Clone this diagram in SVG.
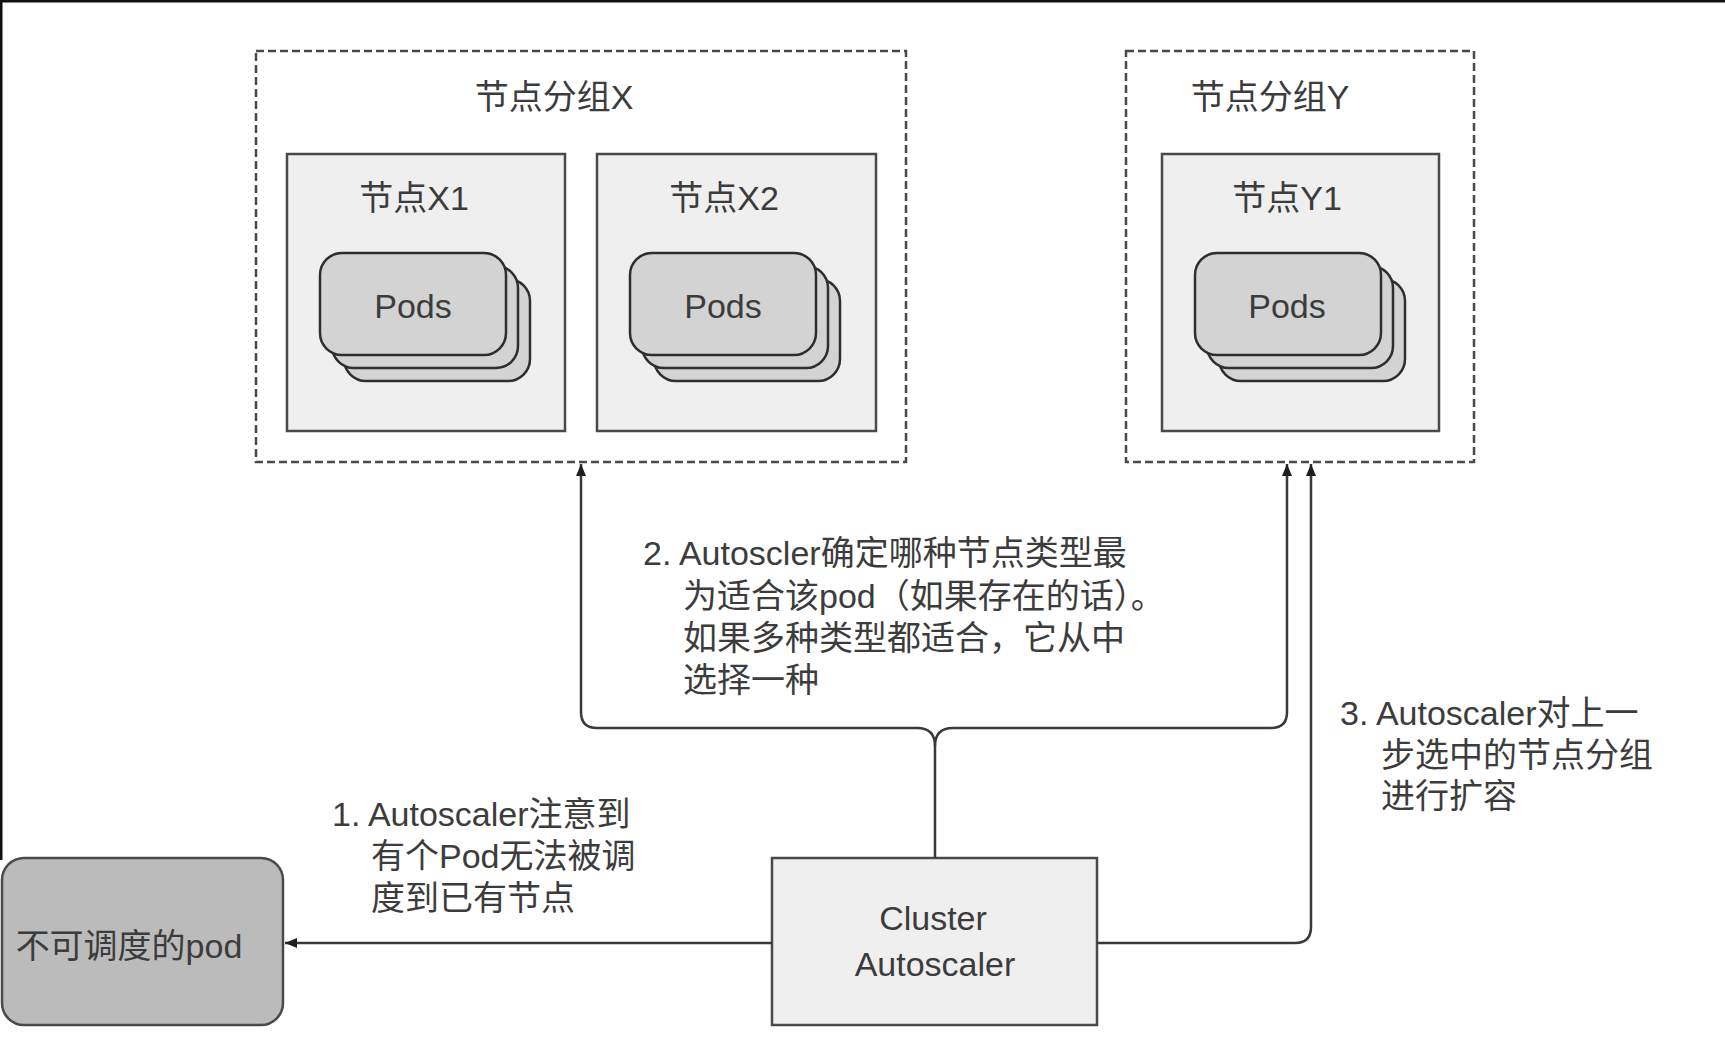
<svg xmlns="http://www.w3.org/2000/svg" width="1725" height="1047" viewBox="0 0 1725 1047">
<defs>
<style>
.t{font-family:"Liberation Sans","Noto Sans CJK SC",sans-serif;font-size:34px;fill:#3c3c3c}
.m{text-anchor:middle}
.grp{fill:#fff;stroke:#4a4a4a;stroke-width:2.5;stroke-dasharray:8 4}
.node{fill:#efefef;stroke:#4a4a4a;stroke-width:2.5}
.pod{fill:#d3d3d3;stroke:#2e2e2e;stroke-width:2.5}
.con{fill:none;stroke:#3a3a3a;stroke-width:2.5}
</style>
<marker id="ah" viewBox="0 0 12 10" refX="12" refY="5" markerWidth="12" markerHeight="10" markerUnits="userSpaceOnUse" orient="auto">
<path d="M0,0 L12,5 L0,10 Z" fill="#1e1e1e"/>
</marker>
<g id="podstack">
<rect class="pod" x="24" y="26" width="186" height="102" rx="22"/>
<rect class="pod" x="12" y="13" width="186" height="102" rx="22"/>
<rect class="pod" x="0" y="0" width="186" height="102" rx="22"/>
</g>
</defs>
<rect width="1725" height="1047" fill="#fff"/>
<line x1="0" y1="1" x2="1725" y2="1" stroke="#111" stroke-width="3"/>
<line x1="1" y1="0" x2="1" y2="860" stroke="#111" stroke-width="3"/>

<g id="groupX">
<rect class="grp" x="256" y="51" width="650" height="411"/>
<text class="t m" x="554" y="109">节点分组X</text>
</g>
<g id="nodeX1">
<rect class="node" x="287" y="154" width="278" height="277"/>
<text class="t m" x="414" y="210">节点X1</text>
<use href="#podstack" x="320" y="253"/>
<text class="t m" x="413" y="318">Pods</text>
</g>
<g id="nodeX2">
<rect class="node" x="597" y="154" width="279" height="277"/>
<text class="t m" x="724" y="210">节点X2</text>
<use href="#podstack" x="630" y="253"/>
<text class="t m" x="723" y="318">Pods</text>
</g>
<g id="groupY">
<rect class="grp" x="1126" y="51" width="348" height="411"/>
<text class="t m" x="1270" y="109">节点分组Y</text>
</g>
<g id="nodeY1">
<rect class="node" x="1162" y="154" width="277" height="277"/>
<text class="t m" x="1287" y="210">节点Y1</text>
<use href="#podstack" x="1195" y="253"/>
<text class="t m" x="1287" y="318">Pods</text>
</g>
<g id="clusterAutoscaler">
<rect class="node" x="772" y="858" width="325" height="167"/>
<text class="t m" x="933" y="930">Cluster</text>
<text class="t m" x="935" y="976">Autoscaler</text>
</g>
<g id="unschedulablePod">
<rect x="2" y="858" width="281" height="167" rx="22" fill="#bbbbbb" stroke="#4a4a4a" stroke-width="2.5"/>
<text class="t m" x="129" y="958">不可调度的pod</text>
</g>

<g id="connectors">
<path class="con" d="M772 943 H285" marker-end="url(#ah)"/>
<path class="con" d="M935 858 V746 Q935 728 917 728 H597 Q581 728 581 712 V464" marker-end="url(#ah)"/>
<path class="con" d="M935 746 Q935 728 953 728 H1271 Q1287 728 1287 712 V464" marker-end="url(#ah)"/>
<path class="con" d="M1097 943 H1295 Q1311 943 1311 927 V464" marker-end="url(#ah)"/>
</g>

<g id="labels">
<text class="t" x="643" y="565">2. Autoscler确定哪种节点类型最</text>
<text class="t" x="683" y="608">为适合该pod（如果存在的话）。</text>
<text class="t" x="683" y="650">如果多种类型都适合，它从中</text>
<text class="t" x="683" y="692">选择一种</text>
<text class="t" x="332" y="826">1. Autoscaler注意到</text>
<text class="t" x="371" y="868">有个Pod无法被调</text>
<text class="t" x="371" y="910">度到已有节点</text>
<text class="t" x="1340" y="725">3. Autoscaler对上一</text>
<text class="t" x="1381" y="767">步选中的节点分组</text>
<text class="t" x="1381" y="808">进行扩容</text>
</g>
</svg>
